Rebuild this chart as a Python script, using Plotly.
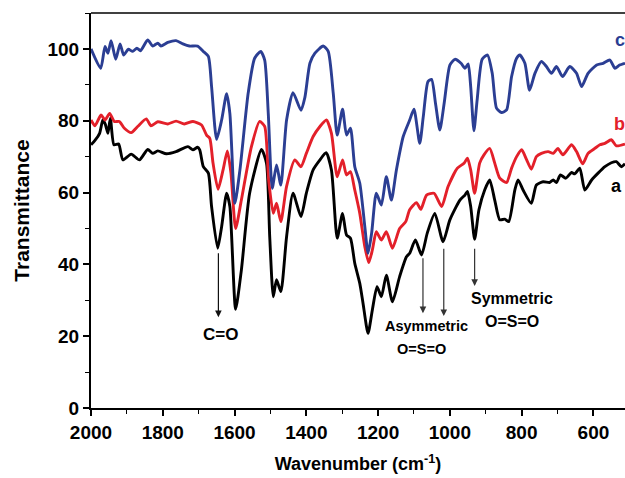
import plotly.graph_objects as go

# ---------------- data ----------------
wn_a = [2000, 1989, 1976, 1967, 1960, 1953, 1946, 1936, 1923, 1911, 1888, 1865, 1842, 1828, 1814,
        1790, 1763, 1730, 1716, 1703, 1697, 1687, 1673, 1664, 1647, 1636, 1622, 1613, 1597, 1581,
        1558, 1525, 1511, 1502, 1492, 1483, 1471, 1455, 1437, 1415, 1400, 1381, 1362, 1345, 1330,
        1314, 1299, 1288, 1277, 1265, 1251, 1242, 1228, 1216, 1203, 1191, 1177, 1160, 1140, 1121,
        1112, 1096, 1079, 1063, 1042, 1019, 1000, 972, 958, 951, 942, 931, 919, 903, 889, 875, 861,
        847, 836, 819, 810, 796, 773, 759, 740, 722, 712, 703, 692, 677, 661, 652, 638, 624, 605,
        587, 568, 550, 536, 522, 512]
t_a = [73.3, 74.5, 76.5, 80.2, 79.0, 76.5, 80.7, 73.3, 73.5, 69.1, 70.7, 69.1, 72.0, 70.9, 71.6,
       70.8, 71.4, 72.8, 71.9, 72.6, 71.9, 67.2, 65.4, 56.1, 44.5, 50.5, 59.8, 56.1, 27.5, 38.4,
       59.8, 72.0, 68.2, 47.7, 31.0, 35.7, 32.4, 47.7, 59.8, 53.3, 59.8, 66.3, 69.1, 71.1, 66.3,
       47.3, 54.2, 48.2, 47.3, 40.3, 34.7, 29.2, 20.8, 27.3, 33.8, 31.0, 37.0, 29.6, 36.6, 42.1,
       43.1, 46.8, 42.6, 48.7, 54.2, 46.3, 52.4, 57.9, 59.3, 60.3, 56.1, 47.0, 55.2, 60.7, 63.5,
       57.9, 52.4, 52.6, 51.9, 60.7, 63.5, 60.7, 57.0, 62.1, 63.0, 62.8, 63.5, 62.8, 64.9, 64.0,
       65.6, 65.2, 66.8, 60.7, 63.5, 65.4, 67.2, 68.3, 68.6, 67.2, 68.0]

wn_b = [2000, 1989, 1972, 1961, 1948, 1935, 1921, 1907, 1888, 1870, 1846, 1833, 1814, 1786, 1763,
        1740, 1716, 1692, 1678, 1669, 1660, 1646, 1632, 1620, 1610, 1597, 1581, 1553, 1530, 1516,
        1505, 1492, 1483, 1471, 1455, 1432, 1415, 1400, 1381, 1362, 1344, 1330, 1314, 1299, 1288,
        1277, 1265, 1251, 1237, 1226, 1216, 1205, 1191, 1177, 1160, 1140, 1123, 1112, 1093, 1081,
        1065, 1044, 1023, 1005, 979, 960, 951, 942, 931, 917, 905, 889, 875, 861, 842, 828, 814,
        800, 786, 773, 759, 745, 726, 712, 699, 685, 661, 647, 630, 615, 596, 582, 568, 550, 536, 512]
t_b = [80.2, 78.6, 81.6, 80.2, 82.0, 79.8, 79.8, 77.9, 76.7, 78.4, 80.5, 78.6, 79.7, 79.1, 79.9,
       79.1, 79.8, 78.8, 76.0, 75.1, 68.2, 60.9, 66.3, 71.6, 65.4, 50.0, 57.9, 72.8, 79.8, 78.4,
       63.5, 54.2, 57.0, 51.9, 61.7, 69.1, 67.2, 70.9, 75.6, 78.4, 80.2, 76.5, 64.4, 69.1, 64.9,
       65.8, 60.7, 54.2, 44.9, 40.5, 44.0, 49.1, 46.8, 49.1, 44.5, 50.0, 51.9, 55.2, 57.2, 55.3,
       59.3, 59.8, 56.1, 61.7, 66.8, 68.2, 69.6, 66.3, 59.8, 68.2, 70.5, 72.3, 68.2, 64.0, 62.8,
       66.8, 70.0, 71.9, 69.1, 66.5, 70.0, 70.9, 71.4, 70.9, 72.3, 70.5, 73.3, 71.4, 68.0, 70.9,
       72.3, 73.3, 73.7, 74.7, 73.0, 73.5]

wn_c = [2000, 1973, 1961, 1953, 1944, 1931, 1919, 1909, 1896, 1884, 1872, 1862, 1842, 1828, 1814,
        1805, 1786, 1763, 1744, 1726, 1703, 1687, 1673, 1664, 1650, 1636, 1622, 1613, 1599, 1585,
        1562, 1544, 1527, 1516, 1506, 1495, 1483, 1471, 1455, 1437, 1415, 1404, 1390, 1376, 1353,
        1339, 1325, 1314, 1299, 1288, 1277, 1265, 1251, 1237, 1228, 1218, 1205, 1191, 1177, 1163,
        1149, 1130, 1112, 1100, 1084, 1074, 1061, 1051, 1040, 1028, 1016, 1000, 986, 969, 958, 949,
        942, 933, 924, 910, 895, 882, 870, 856, 842, 828, 814, 805, 791, 778, 763, 745, 731, 717,
        703, 686, 666, 647, 633, 615, 591, 573, 554, 540, 527, 512]
t_c = [100.0, 94.6, 100.7, 98.8, 102.3, 97.1, 101.4, 98.3, 99.9, 99.3, 100.2, 99.5, 102.5, 100.8, 101.6,
       100.8, 101.8, 102.3, 101.4, 100.8, 100.8, 99.3, 97.9, 89.5, 74.8, 80.2, 87.5, 82.0, 57.0, 66.3,
       87.7, 97.4, 99.3, 96.9, 82.0, 61.2, 67.7, 62.1, 80.2, 87.8, 82.9, 86.5, 96.0, 98.8, 100.8,
       99.3, 87.7, 76.0, 83.2, 76.0, 77.9, 67.2, 62.6, 50.5, 43.1, 48.7, 59.8, 56.5, 64.4, 57.9,
       66.3, 75.6, 80.2, 83.2, 73.7, 81.2, 90.9, 91.5, 84.8, 77.4, 84.8, 95.5, 97.1, 96.0, 94.6, 95.8,
       89.5, 77.2, 85.8, 97.1, 98.3, 93.2, 83.5, 82.3, 83.0, 92.3, 97.4, 98.3, 96.0, 88.5, 93.2, 96.5, 95.1, 93.2,
       95.1, 92.3, 95.1, 93.2, 89.5, 93.2, 95.5, 96.0, 96.9, 94.6, 95.5, 96.0]

x_ticks = [2000, 1800, 1600, 1400, 1200, 1000, 800, 600]
y_ticks = [0, 20, 40, 60, 80, 100]

# ---------------- styling ----------------
FONT = "Liberation Sans, Arial, sans-serif"
BLACK = "#000000"
RED = "#e3202a"
BLUE = "#2b3e93"

fig = go.Figure()
for wn, t, col in [(wn_a, t_a, BLACK), (wn_b, t_b, RED), (wn_c, t_c, BLUE)]:
    fig.add_trace(go.Scatter(x=wn, y=t, mode="lines",
                             line=dict(color=col, width=2.9, shape="spline", smoothing=0.6),
                             showlegend=False, hoverinfo="skip"))

ann = []
# curve labels
for txt, x, y, col in [("c", 527, 102.5, BLUE), ("b", 527, 79.0, RED), ("a", 535, 61.8, BLACK)]:
    ann.append(dict(x=x, y=y, text=txt, showarrow=False, xref="x", yref="y",
                    font=dict(family=FONT, size=18, color=col, weight="bold")))

# arrows: (wavenumber, tail T, tip T)
for x, t0, t1, col in [(1645, 43.5, 25.3, "#111111"), (1075, 42.1, 26.4, "#333333"),
                       (1017, 44.8, 25.6, "#333333"), (931, 44.8, 34.0, "#333333")]:
    ann.append(dict(x=x, y=t1, ax=x, ay=t0, xref="x", yref="y", axref="x", ayref="y",
                    text="", showarrow=True, arrowhead=2, arrowsize=1.1, arrowwidth=1.2,
                    arrowcolor=col))

for txt, x, y, sz in [("C=O", 1638, 20.6, 17), ("Asymmetric", 1065, 22.8, 14.5),
                      ("O=S=O", 1078, 16.4, 14.5), ("Symmetric", 826, 30.4, 16),
                      ("O=S=O", 827, 24.2, 16)]:
    ann.append(dict(x=x, y=y, text=txt, showarrow=False, xref="x", yref="y",
                    font=dict(family=FONT, size=sz, color=BLACK, weight="bold")))

fig.update_layout(
    width=625, height=478,
    margin=dict(l=91, r=0, t=13, b=70, pad=0),
    paper_bgcolor="white", plot_bgcolor="white",
    annotations=ann,
    font=dict(family=FONT, color=BLACK),
)
fig.update_xaxes(
    range=[2000, 512], tickvals=x_ticks, ticktext=[str(v) for v in x_ticks],
    showgrid=False, zeroline=False,
    showline=True, linecolor=BLACK, linewidth=2, mirror=False,
    ticks="outside", ticklen=6, tickwidth=1.5, tickcolor=BLACK,
    minor=dict(dtick=100, ticks="outside", ticklen=4, tickwidth=1.2, tickcolor=BLACK, tick0=2000),
    tickfont=dict(family=FONT, size=19, color=BLACK, weight="bold"),
    title=dict(text="Wavenumber (cm<sup>-1</sup>)", standoff=16,
               font=dict(family=FONT, size=18, color=BLACK, weight="bold")),
)
fig.update_yaxes(
    range=[0, 110], tickvals=y_ticks, ticktext=[str(v) for v in y_ticks],
    showgrid=False, zeroline=False,
    showline=True, linecolor=BLACK, linewidth=2,
    ticks="outside", ticklen=6, tickwidth=1.5, tickcolor=BLACK,
    minor=dict(dtick=10, ticks="outside", ticklen=4, tickwidth=1.2, tickcolor=BLACK, tick0=0),
    tickfont=dict(family=FONT, size=19, color=BLACK, weight="bold"),
    title=dict(text="Transmittance", standoff=12,
               font=dict(family=FONT, size=21, color=BLACK, weight="bold")),
)
# top frame line
fig.add_shape(type="line", xref="paper", yref="paper", x0=0, x1=1, y0=1, y1=1,
              line=dict(color=BLACK, width=1.5))

fig.write_html("out.html")
